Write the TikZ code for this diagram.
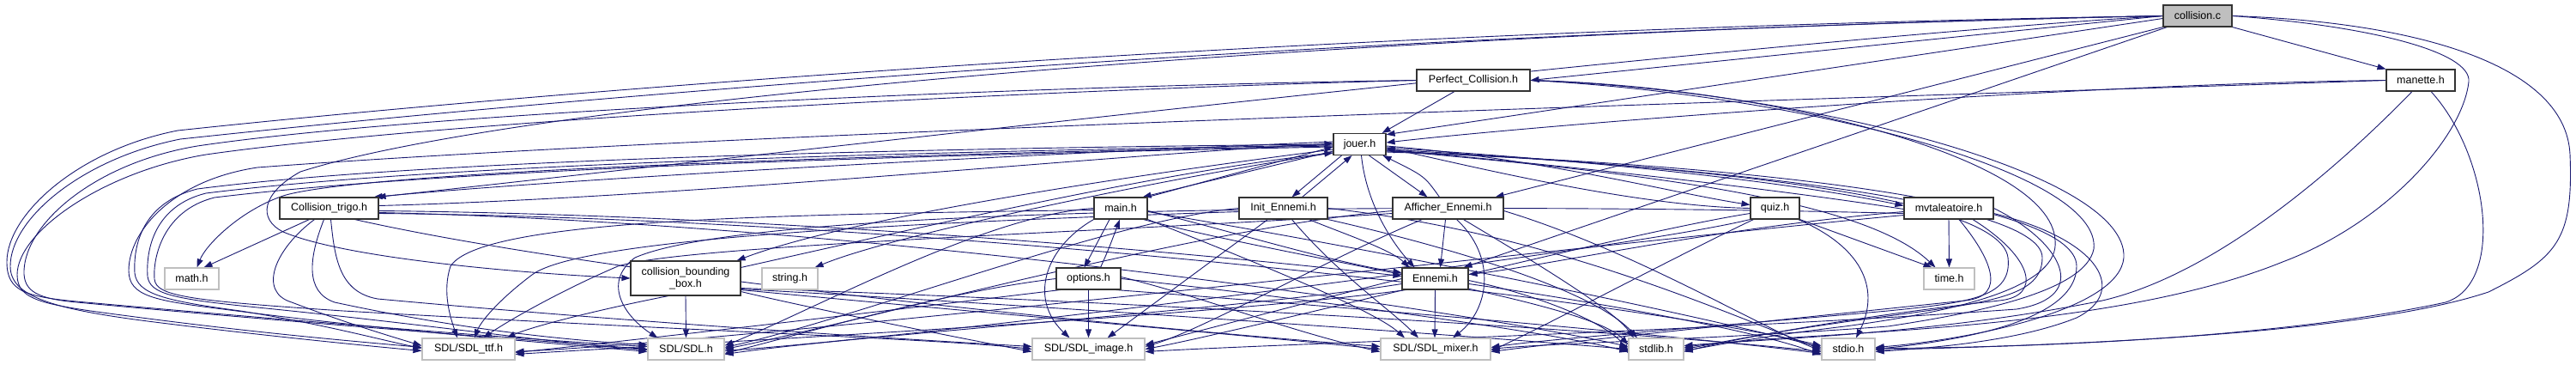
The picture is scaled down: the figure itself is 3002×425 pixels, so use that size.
\documentclass[tikz,border=0pt]{standalone}
\usepackage{fontspec}
\setmainfont{Liberation Sans}
\usetikzlibrary{arrows.meta}
\definecolor{edgec}{RGB}{25,25,112}
\definecolor{sysb}{RGB}{191,191,191}
\definecolor{rootf}{RGB}{191,191,191}
\pgfdeclarelayer{bg}
\pgfsetlayers{bg,main}
\begin{document}
\begin{tikzpicture}[x=1pt,y=-1pt,
  box/.style={draw=black!80, line width=1.1pt, fill=white, minimum height=25pt, inner sep=0pt, font=\fontsize{12.5}{14}\selectfont},
  sys/.style={box, draw=sysb},
  root/.style={box, fill=rootf},
  dep/.style={draw=edgec, line width=0.9pt, -{Triangle[length=10pt,width=7pt]}}]
\useasboundingbox (0,0) rectangle (3002,425);
% nodes
\node[root, minimum width=80pt]  (A) at (2561,18.5) {collision.c};
\node[box, minimum width=132pt]  (B) at (1717,93.5) {Perfect\_Collision.h};
\node[box, minimum width=80pt]   (C) at (2821,93.5) {manette.h};
\node[box, minimum width=61pt]   (D) at (1584.5,168) {jouer.h};
\node[box, minimum width=115pt]  (E) at (383.5,242.5) {Collision\_trigo.h};
\node[box, minimum width=62pt]   (F) at (1306,242.5) {main.h};
\node[box, minimum width=103pt]  (G) at (1495.5,242.5) {Init\_Ennemi.h};
\node[box, minimum width=129pt]  (H) at (1687.5,242.5) {Afficher\_Ennemi.h};
\node[box, minimum width=57pt]   (I) at (2068.5,242.5) {quiz.h};
\node[box, minimum width=104pt]  (J) at (2271,242.5) {mvtaleatoire.h};
\node[sys, minimum width=63pt]   (K) at (223.5,324.5) {math.h};
\node[box, minimum width=128pt, minimum height=40pt, align=center] (L) at (799,324) {collision\_bounding\\\_box.h};
\node[sys, minimum width=65pt]   (M) at (920.5,324.5) {string.h};
\node[box, minimum width=75pt]   (N) at (1268.5,324.5) {options.h};
\node[box, minimum width=77pt]   (O) at (1672.5,324.5) {Ennemi.h};
\node[sys, minimum width=59pt]   (P) at (2271.5,324.5) {time.h};
\node[sys, minimum width=108pt]  (Q) at (546,406.5) {SDL/SDL\_ttf.h};
\node[sys, minimum width=89pt]   (R) at (799.5,406.5) {SDL/SDL.h};
\node[sys, minimum width=131pt]  (S) at (1268.5,406.5) {SDL/SDL\_image.h};
\node[sys, minimum width=128pt]  (T) at (1673,406.5) {SDL/SDL\_mixer.h};
\node[sys, minimum width=64pt]   (U) at (1930,406.5) {stdlib.h};
\node[sys, minimum width=62pt]   (V) at (2154,406.5) {stdio.h};
\begin{pgfonlayer}{bg}
% collision.c
\draw[dep] (A.west) -- (B.east);
\draw[dep] (A.south east) -- (C.north west);
\draw[dep] ([yshift=-3pt]A.west) -- (D.20);
\draw[dep] (A.south west) -- ([xshift=-10pt]H.north east);
\draw[dep] ([xshift=5pt]A.south west) -- ([xshift=-6pt]O.north east);
\draw[dep] (A.west) .. controls (2000,50) and (900,180) .. ([xshift=-2pt]E.north east);
\draw[dep] (A.west) .. controls (1500,40) and (600,120) .. (350,200) .. controls (305,225) and (300,255) .. (330,270) .. controls (400,300) and (600,318) .. (L.west);
\draw[dep] (A.west) .. controls (1500,35) and (600,110) .. (207,152) .. controls (90,175) and (8,250) .. (8,305) .. controls (8,340) and (30,346) .. (100,352) .. controls (300,370) and (620,396) .. ([yshift=3pt]R.west);
\draw[dep] (A.west) .. controls (1500,40) and (620,118) .. (210,162) .. controls (95,185) and (12,255) .. (12,310) .. controls (12,345) and (60,360) .. (180,375) .. controls (300,390) and (420,402) .. ([yshift=-2pt]Q.west);
\draw[dep] (A.east) .. controls (2800,25) and (2990,70) .. (2995,180) .. controls (2999,280) and (2980,300) .. (2900,340) .. controls (2750,390) and (2400,402) .. ([yshift=-1pt]V.east);
\draw[dep] (A.east) .. controls (2760,30) and (2880,60) .. (2877,95) .. controls (2870,160) and (2780,260) .. (2660,305) .. controls (2450,390) and (2100,385) .. ([yshift=2pt]U.east);
% Perfect_Collision.h
\draw[dep] ([xshift=-22pt]B.south) -- ([xshift=-5pt]D.north east);
\draw[dep] (B.west) .. controls (1200,100) and (500,130) .. (230,170) .. controls (110,190) and (30,260) .. (28,315) .. controls (27,340) and (45,348) .. (90,352) .. controls (300,372) and (640,398) .. (R.west);
\draw[dep] (B.west) .. controls (1200,105) and (520,140) .. (240,180) .. controls (120,200) and (20,270) .. (20,320) .. controls (20,350) and (50,355) .. (150,368) .. controls (300,388) and (420,398) .. ([yshift=2pt]Q.west);
\draw[dep] (B.east) .. controls (2100,110) and (2450,200) .. (2440,290) .. controls (2430,340) and (2300,365) .. (2200,380) .. controls (2000,395) and (1800,400) .. (T.east);
\draw[dep] (B.east) .. controls (2050,100) and (2390,180) .. (2395,280) .. controls (2400,330) and (2300,360) .. (2150,380) .. controls (2050,392) and (2000,402) .. ([yshift=-2pt]U.east);
\draw[dep] (B.east) .. controls (2100,105) and (2480,200) .. (2475,300) .. controls (2470,360) and (2300,395) .. ([yshift=2pt]V.east);
% manette.h
\draw[dep] (C.west) .. controls (2400,98) and (1800,145) .. ([yshift=2pt]D.east);
\draw[dep] (C.west) .. controls (2300,110) and (900,150) .. (300,195) .. controls (200,210) and (150,270) .. (150,315) .. controls (150,345) and (180,350) .. (260,360) .. controls (450,385) and (650,400) .. ([yshift=-3pt]R.west);
\draw[dep] ([xshift=-10pt]C.south) .. controls (2720,200) and (2580,320) .. (2450,350) .. controls (2250,390) and (2050,395) .. ([yshift=4pt]U.east);
\draw[dep] ([xshift=12pt]C.south) .. controls (2900,180) and (2920,330) .. (2850,352) .. controls (2650,395) and (2350,405) .. ([yshift=1pt]V.east);
% jouer.h
\draw[dep] ([yshift=-8pt]D.west) -- ([xshift=-6pt]F.north east);
\draw[dep] (F.north east) -- ([yshift=-3pt]D.west);
\draw[dep] ([xshift=-21pt]D.south) -- ([xshift=10pt]G.north);
\draw[dep] ([xshift=22pt]G.north) -- ([xshift=-9pt]D.south);
\draw[dep] ([xshift=11pt]D.south) -- ([xshift=-24pt]H.north);
\draw[dep] ([xshift=-10pt]H.north) .. controls (1660,205) .. ([xshift=27pt]D.south);
\draw[dep] ([xshift=2pt]D.south) .. controls (1592,235) and (1620,280) .. ([xshift=-24pt]O.north);
\draw[dep] ([yshift=3pt]D.west) .. controls (1200,180) and (700,205) .. ([xshift=-6pt]E.north east);
\draw[dep] ([yshift=3pt]E.east) .. controls (800,230) and (1300,180) .. ([yshift=1pt]D.west);
\draw[dep] ([yshift=-6pt]D.west) .. controls (1350,200) and (1000,250) .. ([xshift=-5pt]L.north east);
\draw[dep] ([yshift=-8pt]L.north east) .. controls (1050,270) and (1350,200) .. ([yshift=-10pt]D.west);
\draw[dep] ([yshift=-2pt]D.west) .. controls (1000,180) and (420,200) .. (330,228) .. controls (280,245) and (240,285) .. ([xshift=6pt]K.north);
\draw[dep] ([yshift=-10pt]D.west) .. controls (1400,200) and (1050,270) .. ([xshift=-4pt]M.north east);
\draw[dep] ([yshift=-2pt]D.east) .. controls (1800,185) and (1950,225) .. ([yshift=4pt]I.west);
\draw[dep] (I.west) .. controls (1900,240) and (1700,190) .. ([yshift=-4pt]D.east);
\draw[dep] ([yshift=-4pt]D.east) .. controls (1900,190) and (2100,215) .. ([yshift=3pt]J.west);
\draw[dep] ([yshift=-1pt]J.west) .. controls (2100,225) and (1900,200) .. ([yshift=-6pt]D.east);
\draw[dep] ([yshift=-7pt]D.east) .. controls (1900,200) and (2170,230) .. ([xshift=-16pt]P.north);
\draw[dep] (D.west) .. controls (1100,172) and (500,185) .. (230,220) .. controls (170,235) and (155,280) .. (157,318) .. controls (160,342) and (190,350) .. (280,362) .. controls (380,378) and (440,395) .. ([yshift=1pt]Q.west);
\draw[dep] ([yshift=-1pt]D.west) .. controls (1100,176) and (520,190) .. (240,225) .. controls (180,240) and (170,290) .. (172,322) .. controls (175,342) and (200,348) .. (300,358) .. controls (500,378) and (650,400) .. ([yshift=-1pt]R.west);
\draw[dep] ([yshift=-3pt]D.west) .. controls (1100,180) and (540,195) .. (250,230) .. controls (190,245) and (178,300) .. (180,325) .. controls (182,345) and (220,350) .. (400,362) .. controls (800,385) and (1100,395) .. (S.west);
\draw[dep] ([yshift=-6pt]D.east) .. controls (1900,190) and (2330,220) .. (2340,300) .. controls (2345,345) and (2300,352) .. (2200,362) .. controls (2000,380) and (1800,395) .. ([yshift=2pt]T.east);
\draw[dep] ([yshift=-8pt]D.east) .. controls (1950,190) and (2380,230) .. (2380,300) .. controls (2380,345) and (2320,352) .. (2200,368) .. controls (2050,388) and (2000,400) .. (U.east);
\draw[dep] ([yshift=-9pt]D.east) .. controls (2000,190) and (2420,230) .. (2420,310) .. controls (2420,370) and (2300,395) .. (V.east);
% Collision_trigo.h
\draw[dep] ([xshift=-23pt]E.south) -- ([xshift=14pt]K.north);
\draw[dep] ([xshift=-17pt]E.south) .. controls (320,290) and (300,340) .. (340,352) .. controls (400,375) and (450,390) .. ([yshift=4pt]Q.west);
\draw[dep] ([xshift=-6pt]E.south) .. controls (360,300) and (355,340) .. (390,352) .. controls (520,380) and (640,395) .. ([yshift=5pt]R.west);
\draw[dep] ([xshift=2pt]E.south) .. controls (390,300) and (395,340) .. (440,348) .. controls (700,372) and (1000,392) .. ([yshift=3pt]S.west);
\draw[dep] ([xshift=30pt]E.south) .. controls (700,320) and (1300,380) .. ([yshift=3pt]T.west);
\draw[dep] ([yshift=-3pt]E.east) .. controls (900,250) and (1400,295) .. ([yshift=3pt]O.west);
\draw[dep] ([yshift=-5pt]E.east) .. controls (1000,260) and (1700,360) .. ([yshift=3pt]U.west);
\draw[dep] ([yshift=-6pt]E.east) .. controls (1100,255) and (1900,350) .. ([yshift=4pt]V.west);
% main.h
\draw[dep] ([xshift=-13pt]F.south) -- ([xshift=-5pt]N.north);
\draw[dep] ([xshift=14pt]N.north) .. controls (1292,290) .. ([xshift=-1pt]F.south);
\draw[dep] (F.south west) .. controls (1215,290) and (1200,350) .. ([xshift=-22pt]S.north);
\draw[dep] ([yshift=-3pt]F.east) .. controls (1420,265) and (1550,305) .. ([yshift=7pt]O.west);
\draw[dep] (F.south east) .. controls (1450,300) and (1600,360) .. ([xshift=-36pt]T.north);
\draw[dep] ([xshift=-5pt]F.south east) .. controls (1500,300) and (1850,350) .. ([yshift=5pt]U.west);
\draw[dep] ([yshift=-4pt]F.east) .. controls (1600,290) and (1950,360) .. ([yshift=2pt]V.west);
\draw[dep] (F.west) .. controls (1150,250) and (950,360) .. ([yshift=4pt]R.east);
\draw[dep] ([yshift=-2pt]F.west) .. controls (900,250) and (560,255) .. (525,310) .. controls (515,340) and (525,370) .. ([xshift=-13pt]Q.north);
% Init_Ennemi.h
\draw[dep] ([xshift=30pt]G.south) .. controls (1560,270) and (1620,290) .. ([xshift=-30pt]O.north);
\draw[dep] ([xshift=-18pt]G.south) -- ([xshift=22pt]S.north);
\draw[dep] ([xshift=10pt]G.south) .. controls (1560,320) and (1620,360) .. ([xshift=-20pt]T.north);
\draw[dep] (G.south east) .. controls (1700,290) and (1860,340) .. ([xshift=-22pt]U.north);
\draw[dep] (G.east) .. controls (1800,270) and (2000,360) .. (V.west);
\draw[dep] (G.west) .. controls (1300,255) and (1000,370) .. ([yshift=2pt]R.east);
\draw[dep] ([yshift=-4pt]G.west) .. controls (1100,258) and (680,275) .. (620,320) .. controls (580,350) and (560,375) .. ([xshift=7pt]Q.north);
% Afficher_Ennemi.h
\draw[dep] ([xshift=-3pt]H.south) -- ([xshift=6pt]O.north);
\draw[dep] ([xshift=10pt]H.south) .. controls (1745,300) and (1735,360) .. ([xshift=20pt]T.north);
\draw[dep] ([xshift=-30pt]H.south) .. controls (1550,300) and (1400,385) .. ([yshift=3pt]S.east);
\draw[dep] ([xshift=18pt]H.south) .. controls (1780,300) and (1880,360) .. ([xshift=-26pt]U.north);
\draw[dep] ([yshift=-3pt]H.east) .. controls (1900,290) and (2050,380) .. ([yshift=-2pt]V.west);
\draw[dep] ([yshift=-3pt]H.west) .. controls (1400,265) and (1000,375) .. (R.east);
\draw[dep] ([yshift=-6pt]H.west) .. controls (1300,270) and (800,285) .. (720,310) .. controls (650,340) and (590,375) .. ([xshift=17pt]Q.north);
% quiz.h
\draw[dep] (I.south east) -- ([xshift=-20pt]P.north);
\draw[dep] ([xshift=-2pt]I.south east) .. controls (2175,290) and (2190,340) .. ([xshift=9pt]V.north);
\draw[dep] ([yshift=-6pt]I.west) .. controls (1900,270) and (1450,385) .. (S.east);
\draw[dep] (I.south west) .. controls (1900,290) and (1100,390) .. ([yshift=-2pt]R.east);
\draw[dep] ([xshift=4pt]I.south west) .. controls (1950,300) and (1800,380) .. ([yshift=-2pt]T.east);
% mvtaleatoire.h
\draw[dep] (J.south) -- (P.north);
\draw[dep] ([yshift=-4pt]J.west) .. controls (2000,265) and (1800,310) .. ([yshift=5pt]O.east);
\draw[dep] ([xshift=12pt]J.south) .. controls (2320,300) and (2340,345) .. (2290,350) .. controls (2100,370) and (1850,395) .. ([yshift=-3pt]T.east);
\draw[dep] ([xshift=28pt]J.south) .. controls (2370,300) and (2380,345) .. (2330,350) .. controls (2150,370) and (2020,395) .. ([yshift=-3pt]U.east);
\draw[dep] (J.east) .. controls (2400,280) and (2440,345) .. (2350,360) .. controls (2000,385) and (1500,400) .. ([yshift=-3pt]S.east);
\draw[dep] ([yshift=-6pt]J.east) .. controls (2450,280) and (2480,340) .. (2420,370) .. controls (2350,398) and (2250,405) .. ([yshift=-3pt]V.east);
\draw[dep] ([yshift=-6pt]J.west) .. controls (1900,240) and (900,230) .. (740,300) .. controls (700,330) and (730,370) .. ([xshift=-33pt]R.north);
\draw[dep] ([yshift=-8pt]J.west) .. controls (1900,280) and (900,395) .. ([yshift=-3pt]Q.east);
% collision_bounding_box.h
\draw[dep] (L.south) -- (R.north);
\draw[dep] ([xshift=-20pt]L.south) .. controls (700,360) and (620,380) .. ([xshift=-10pt]Q.north east);
\draw[dep] ([yshift=5pt]L.south east) .. controls (950,360) and (1100,390) .. ([yshift=-3pt]S.west);
\draw[dep] ([yshift=7pt]L.south east) .. controls (1100,360) and (1450,390) .. (T.west);
\draw[dep] ([yshift=8pt]L.south east) .. controls (1200,355) and (1700,390) .. (U.west);
\draw[dep] ([yshift=9pt]L.south east) .. controls (1300,350) and (1900,385) .. ([yshift=-3pt]V.west);
% options.h
\draw[dep] (N.south) -- (S.north);
\draw[dep] (N.west) .. controls (1100,340) and (950,385) .. ([yshift=-5pt]R.east);
\draw[dep] ([xshift=5pt]N.south west) .. controls (1050,360) and (750,395) .. ([yshift=-4pt]Q.east);
\draw[dep] ([yshift=2pt]N.east) .. controls (1400,345) and (1500,385) .. ([yshift=-3pt]T.west);
\draw[dep] (N.east) .. controls (1500,345) and (1800,385) .. ([yshift=-3pt]U.west);
\draw[dep] ([xshift=-6pt]N.south east) .. controls (1600,360) and (1950,390) .. ([yshift=-5pt]V.west);
% Ennemi.h
\draw[dep] (O.south) -- ([xshift=-1pt]T.north);
\draw[dep] (O.west) .. controls (1550,345) and (1400,385) .. ([yshift=5pt]S.east);
\draw[dep] ([yshift=-6pt]O.west) .. controls (1450,360) and (1000,390) .. ([yshift=-6pt]R.east);
\draw[dep] ([xshift=5pt]O.south west) .. controls (1400,370) and (800,400) .. ([yshift=-6pt]Q.east);
\draw[dep] ([yshift=-2pt]O.east) .. controls (1800,345) and (1880,380) .. ([yshift=-5pt]U.west);
\draw[dep] ([yshift=-6pt]O.east) .. controls (1850,350) and (2050,385) .. ([yshift=-7pt]V.west);
\end{pgfonlayer}
\end{tikzpicture}
\end{document}
